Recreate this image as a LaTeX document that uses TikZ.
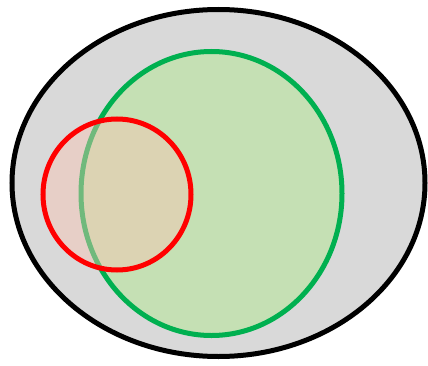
\documentclass[tikz,border=0pt]{standalone}
\begin{document}
\begin{tikzpicture}[x=1pt,y=1pt,
  outerset/.style={draw=black,fill={rgb,255:red,217;green,217;blue,217},line width=5pt},
  greenset/.style={draw={rgb,255:red,0;green,176;blue,80},fill={rgb,255:red,197;green,224;blue,180},line width=5pt},
  redset/.style={draw={rgb,255:red,255;green,0;blue,0},line width=5pt}]
\useasboundingbox (0,0) rectangle (428,365);
\path[outerset] (218.5,182) ellipse [x radius=206.5, y radius=173.5];
\path[greenset] (211.5,171.5) ellipse [x radius=130.5, y radius=142];
\fill[fill={rgb,255:red,250;green,197;blue,179},fill opacity=0.45] (117,170.5) ellipse [x radius=74, y radius=75.5];
\path[redset] (117,170.5) ellipse [x radius=74, y radius=75.5];
\end{tikzpicture}
\end{document}
